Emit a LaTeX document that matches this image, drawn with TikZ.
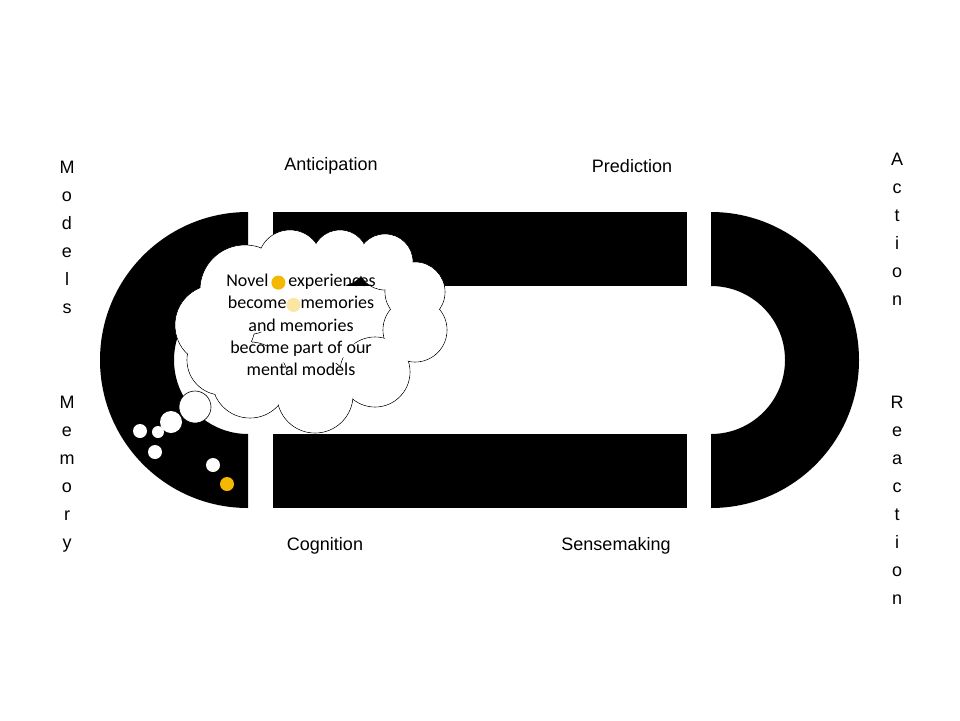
\documentclass[tikz,border=0pt]{standalone}
\usepackage{fontspec}
\setmainfont{Liberation Sans}
\newfontfamily\cloudfont{Carlito}
\definecolor{gold}{HTML}{F5B800}
\definecolor{pale}{HTML}{FBE5A0}
\newcommand{\mydot}[1]{\tikz[baseline=-4pt]\fill[#1](0,0) circle (7pt);}
\begin{document}
\begin{tikzpicture}[x=1pt,y=-1pt,
  lab/.style={font=\fontsize{18}{20}\selectfont},
  vlab/.style={font=\fontsize{18}{28}\selectfont,align=center,anchor=north},
  bub/.style={draw=black,fill=white,line width=0.6pt}]
\useasboundingbox (0,0) rectangle (960,720);
\fill[white] (0,0) rectangle (960,720);
% left C
\fill[black] (248,212) arc[start angle=-90,end angle=-270,radius=148] -- (248,434) arc[start angle=90,end angle=270,radius=74] -- cycle;
% right C
\fill[black] (711,212) arc[start angle=-90,end angle=90,radius=148] -- (711,434) arc[start angle=90,end angle=-90,radius=74] -- cycle;
\fill[black] (273,212) rectangle (687,286);
\fill[black] (273,434) rectangle (687,508);
% cloud
\foreach \x/\y/\r in {245/290/45,215/325/40,290/262/32,340/258/28,385/262/28,415/292/30,415/330/32,375/372/35,315/395/38,250/380/38,222/360/35}
  \draw[bub] (\x,\y) circle (\r);
\foreach \x/\y/\r in {245/290/45,215/325/40,290/262/32,340/258/28,385/262/28,415/292/30,415/330/32,375/372/35,315/395/38,250/380/38,222/360/35}
  \fill[white] (\x,\y) circle (\r-0.6);
\fill[white] (310,320) circle (50);
\draw[bub] (195,407) circle (16);
\foreach \x/\y/\r in {171/422/11,158/432/6,140/431/7,155/452/7,213/465/7}
  \fill[white] (\x,\y) circle (\r);
\fill[gold] (227,484) circle (7);
\node[align=center,font=\cloudfont\fontsize{18}{22.3}\selectfont] (cloudtext) at (301,325)
 {Novel\,\mydot{gold}\,experiences\\become\mydot{pale}memories\\and memories\\become part of our\\mental models};
% labels
\node[lab] (ant) at (331,166) {Anticipation};
\node[lab] (pred) at (632,166) {Prediction};
\node[lab] (cog) at (325,546) {Cognition};
\node[lab] (sense) at (616,546) {Sensemaking};
\node[vlab] (models) at (67,158) {M\\o\\d\\e\\l\\s};
\node[vlab] (memory) at (67,393) {M\\e\\m\\o\\r\\y};
\node[vlab] (action) at (897,150) {A\\c\\t\\i\\o\\n};
\node[vlab] (reaction) at (897,393) {R\\e\\a\\c\\t\\i\\o\\n};
\end{tikzpicture}
\end{document}
